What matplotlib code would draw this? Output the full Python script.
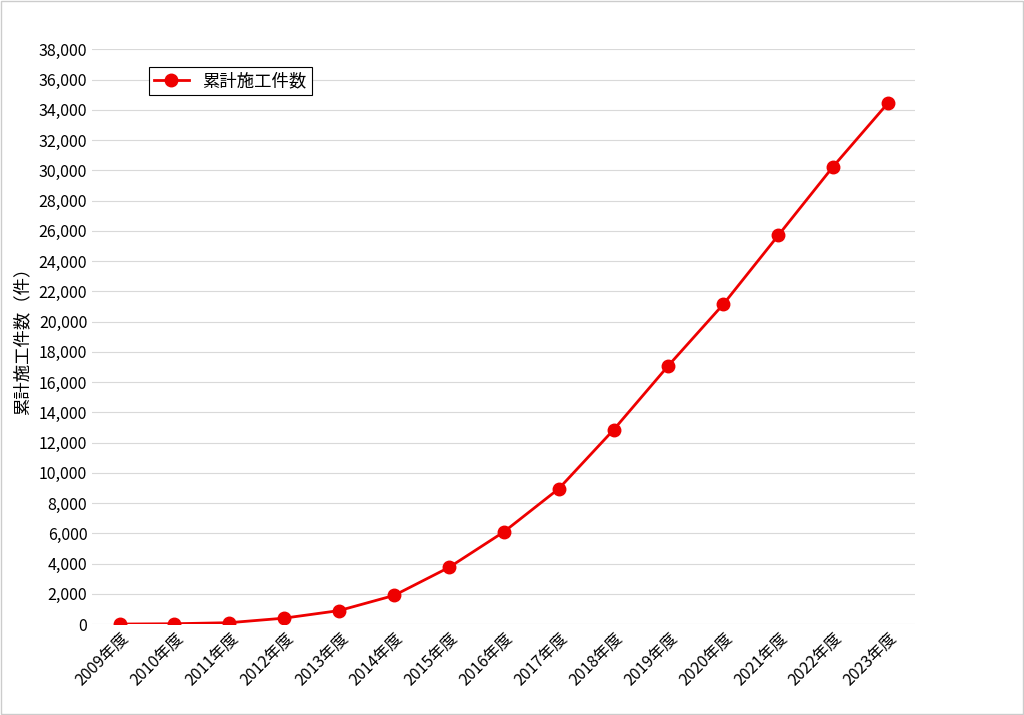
import matplotlib
matplotlib.use("Agg")
import matplotlib.pyplot as plt
from matplotlib.ticker import FuncFormatter, MultipleLocator

plt.rcParams['font.family'] = ['Noto Sans CJK JP', 'DejaVu Sans']

years = ["2009年度","2010年度","2011年度","2012年度","2013年度","2014年度","2015年度","2016年度",
         "2017年度","2018年度","2019年度","2020年度","2021年度","2022年度","2023年度"]
values = [10, 30, 100, 400, 900, 1900, 3750, 6100, 8950, 12850, 17100, 21150, 25700, 30250, 34450]
series_name = "累計施工件数"
ylabel = "累計施工件数（件）"

fig = plt.figure(figsize=(10.24, 7.15), dpi=100)
fig.patches.append(plt.Rectangle((0.001, 0.001), 0.998, 0.998, transform=fig.transFigure,
                                 fill=False, edgecolor='#cccccc', linewidth=1))
ax = fig.add_axes([0.090, 0.127, 0.804, 0.804])
x = list(range(len(years)))
ax.plot(x, values, color='#ee0000', marker='o', markersize=9, linewidth=2, label=series_name)
ax.set_xlim(-0.5, len(years) - 0.5)
ax.set_ylim(0, 38000)
ax.yaxis.set_major_locator(MultipleLocator(2000))
ax.yaxis.set_major_formatter(FuncFormatter(lambda v, p: f"{int(v):,}"))
ax.grid(axis='y', color='#d9d9d9', linewidth=0.8)
ax.set_axisbelow(True)
for s in ax.spines.values():
    s.set_visible(False)
ax.tick_params(length=0, labelsize=11.5)
ax.set_xticks(x)
ax.set_xticklabels(years, rotation=45, ha='right', rotation_mode='anchor')
ax.set_ylabel(ylabel, fontsize=12.5, labelpad=5)
leg = ax.legend(loc='upper left', bbox_to_anchor=(0.058, 0.985), fontsize=12.5, fancybox=False,
                edgecolor='black', framealpha=1, borderpad=0.3, handlelength=2)
leg.get_frame().set_linewidth(0.8)
fig.savefig("out.png", dpi=100)
